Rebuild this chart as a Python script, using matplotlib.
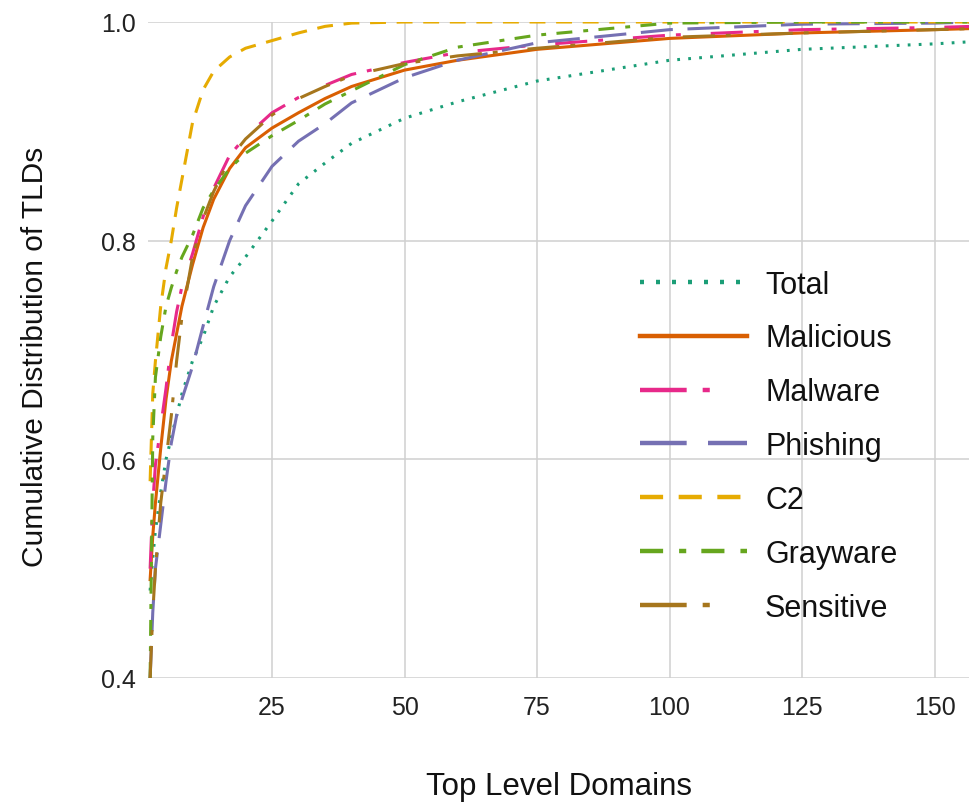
import matplotlib
matplotlib.use("Agg")
import matplotlib.pyplot as plt

plt.rcParams["font.family"] = ["Liberation Sans", "DejaVu Sans"]

# number of top level domains (x) and cumulative share per category
tld_rank = [2, 2.5, 3, 4, 5, 6, 7, 8, 10, 12, 14, 17, 20, 25, 30, 35, 40, 50, 60, 75, 100, 125, 150, 157]

total = [0.48, 0.51, 0.535, 0.57, 0.60, 0.62, 0.64, 0.66, 0.69, 0.712, 0.74, 0.767, 0.785, 0.818,
         0.852, 0.871, 0.889, 0.912, 0.927, 0.946, 0.965, 0.975, 0.980, 0.982]
malicious = [0.49, 0.53, 0.56, 0.61, 0.655, 0.69, 0.715, 0.74, 0.778, 0.812, 0.838, 0.866, 0.885,
             0.903, 0.917, 0.93, 0.941, 0.956, 0.965, 0.975, 0.985, 0.99, 0.993, 0.994]
malware = [0.50, 0.56, 0.595, 0.63, 0.665, 0.705, 0.735, 0.758, 0.788, 0.822, 0.848, 0.878, 0.895,
           0.917, 0.931, 0.942, 0.952, 0.963, 0.972, 0.979, 0.988, 0.993, 0.995, 0.996]
phishing = [0.40, 0.46, 0.50, 0.54, 0.58, 0.615, 0.64, 0.655, 0.685, 0.722, 0.758, 0.80, 0.832,
            0.868, 0.891, 0.907, 0.926, 0.949, 0.965, 0.981, 0.993, 0.998, 0.999, 1.0]
c2 = [0.58, 0.66, 0.69, 0.74, 0.775, 0.80, 0.83, 0.856, 0.908, 0.938, 0.955, 0.968, 0.976,
      0.983, 0.99, 0.996, 0.999, 1.0, 1.0, 1.0, 1.0, 1.0, 1.0, 1.0]
grayware = [0.40, 0.62, 0.675, 0.712, 0.74, 0.757, 0.772, 0.785, 0.805, 0.83, 0.846, 0.866, 0.88,
            0.896, 0.91, 0.925, 0.937, 0.961, 0.977, 0.988, 0.999, 1.0, 1.0, 1.0]
sensitive = [0.40, 0.46, 0.50, 0.56, 0.60, 0.64, 0.69, 0.73, 0.785, 0.82, 0.845, 0.875, 0.893,
             0.915, 0.93, 0.941, 0.951, 0.962, 0.969, 0.976, 0.986, 0.990, 0.993, 0.994]

labels = ["Total", "Malicious", "Malware", "Phishing", "C2", "Grayware", "Sensitive"]
colors = ["#1b9e77", "#d95f02", "#e7298a", "#7570b3", "#e6ab02", "#66a61e", "#a6761d"]
dashes = [(0.9, 2.7), None, (10.5, 3.6, 1.6, 9.8), (10.5, 4.8), (5.2, 3.5),
          (5.2, 3.6, 1.6, 3.4), (10.5, 3.6, 1.6, 9.8)]
series = [total, malicious, malware, phishing, c2, grayware, sensitive]

fig = plt.figure(figsize=(9.69, 8.04), dpi=100)
ax = fig.add_axes([148 / 969, 125 / 804, 821 / 969, 656 / 804])

for y, lab, col, d in zip(series, labels, colors, dashes):
    if d is None:
        ax.plot(tld_rank, y, color=col, lw=2.2, label=lab)
    else:
        ax.plot(tld_rank, y, color=col, lw=2.2, dashes=d, label=lab)

ax.set_xlim(1.6, 156.5)
ax.set_ylim(0.4, 1.0)
ax.set_xticks([25, 50, 75, 100, 125, 150])
ax.set_yticks([0.4, 0.6, 0.8, 1.0])
ax.grid(True, color="#d0d0d0", lw=1.1)
ax.set_axisbelow(True)
for s in ax.spines.values():
    s.set_visible(False)
ax.tick_params(axis="both", length=0, labelsize=18, labelcolor="#222222")
ax.tick_params(axis="x", pad=12)
ax.tick_params(axis="y", pad=9)

ax.set_xlabel("Top Level Domains", fontsize=22.5, color="#111111", labelpad=38)
ax.set_ylabel("Cumulative Distribution of TLDs", fontsize=21.5, color="#111111")
ax.yaxis.set_label_coords(-0.12, 0.491)

leg = ax.legend(loc="center left", bbox_to_anchor=(0.599, 0.3535), frameon=False,
                fontsize=22, handlelength=3.5, handletextpad=0.6, labelspacing=0.78,
                borderpad=0, borderaxespad=0)
for line in leg.get_lines():
    line.set_linewidth(3.2)
for t in leg.get_texts():
    t.set_color("#111111")

fig.savefig("out.png", dpi=100)
